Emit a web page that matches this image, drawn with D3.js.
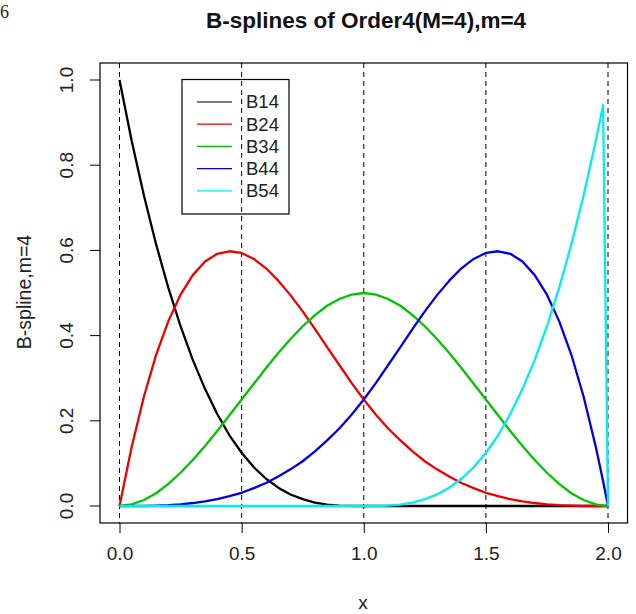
<!DOCTYPE html>
<html><head><meta charset="utf-8">
<script src="https://cdn.jsdelivr.net/npm/d3@7"></script>
<style>body{margin:0;background:#fff}svg{display:block}</style>
</head><body>
<script>
const xValues = [0,0.05,0.1,0.15,0.2,0.25,0.3,0.35,0.4,0.45,0.5,0.55,0.6,0.65,0.7,0.75,0.8,0.85,0.9,0.95,1,1.05,1.1,1.15,1.2,1.25,1.3,1.35,1.4,1.45,1.5,1.55,1.6,1.65,1.7,1.75,1.8,1.85,1.9,1.95,1.98,2];
const b14 = [1,0.857,0.729,0.614,0.512,0.422,0.343,0.275,0.216,0.166,0.125,0.091,0.064,0.043,0.027,0.016,0.008,0.003,0.001,0,0, 0,0,0,0,0,0,0,0,0,0,0,0,0,0,0,0,0,0,0,0,0];
const b24 = [0,0.139,0.257,0.355,0.434,0.496,0.542,0.574,0.592,0.598,0.594,0.580,0.558,0.529,0.495,0.457,0.416,0.373,0.331,0.289,0.25, 0.214,0.182,0.154,0.128,0.105,0.086,0.069,0.054,0.042,0.031,0.023,0.016,0.011,0.007,0.004,0.002,0.001,0,0,0,0];
const b34 = [0,0.004,0.014,0.030,0.052,0.078,0.108,0.141,0.176,0.213,0.25,0.287,0.324,0.359,0.392,0.422,0.448,0.470,0.486,0.496,0.5, 0.496,0.486,0.470,0.448,0.422,0.392,0.359,0.324,0.287,0.25,0.213,0.176,0.141,0.108,0.078,0.052,0.030,0.014,0.004,0.001,0];
const b44 = [0,0,0,0.001,0.002,0.004,0.007,0.011,0.016,0.023,0.031,0.042,0.054,0.069,0.086,0.105,0.128,0.154,0.182,0.214,0.25, 0.289,0.331,0.373,0.416,0.457,0.495,0.529,0.558,0.580,0.594,0.598,0.592,0.574,0.542,0.496,0.434,0.355,0.257,0.139,0.058,0];
const b54 = [0,0,0,0,0,0,0,0,0,0,0,0,0,0,0,0,0,0,0,0,0, 0,0.001,0.003,0.008,0.016,0.027,0.043,0.064,0.091,0.125,0.166,0.216,0.275,0.343,0.422,0.512,0.614,0.729,0.857,0.941,0];
const seriesNames = ["B14","B24","B34","B44","B54"];
const seriesColors = ["#000000","#EE0000","#00C400","#0000DD","#00EEEE"];
const xTicks = [0,0.5,1,1.5,2];
const yTicks = [0,0.2,0.4,0.6,0.8,1.0];
const knotLines = [0,0.5,1,1.5,2];
const titleText = "B-splines of Order4(M=4),m=4";
const xLabel = "x";
const yLabel = "B-spline,m=4";

const W = 636, H = 614;
const box = {left:100, right:627.5, top:63, bottom:523};
const svg = d3.select("body").append("svg").attr("width",W).attr("height",H);
const x = d3.scaleLinear().domain([0,2]).range([119.5,608]);
const y = d3.scaleLinear().domain([0,1]).range([506,80]);
const FONT = "'Liberation Sans', Arial, sans-serif";
const TICK_FS = 19;

// page fragment
svg.append("text").attr("x",0).attr("y",18).attr("font-family","'Liberation Serif', 'Times New Roman', serif")
  .attr("font-size",18).attr("fill","#222").text("6");

// knot lines
svg.append("g").selectAll("line").data(knotLines).join("line")
  .attr("x1",d=>x(d)).attr("x2",d=>x(d)).attr("y1",box.top).attr("y2",box.bottom)
  .attr("stroke","#000").attr("stroke-width",1).attr("stroke-dasharray","5,4");

// curves
const series = [b14,b24,b34,b44,b54];
const line = d3.line().x((d,i)=>x(xValues[i])).y(d=>y(d));
svg.append("g").selectAll("path").data(series).join("path")
  .attr("d",d=>line(d)).attr("fill","none")
  .attr("stroke",(d,i)=>seriesColors[i]).attr("stroke-width",2.3)
  .attr("stroke-linejoin","round");

// box
svg.append("rect").attr("x",box.left).attr("y",box.top)
  .attr("width",box.right-box.left).attr("height",box.bottom-box.top)
  .attr("fill","none").attr("stroke","#000").attr("stroke-width",1.2);

// x axis
const xAxis = d3.axisBottom(x).tickValues(xTicks).tickSize(10).tickPadding(14)
  .tickFormat(d3.format(".1f"));
const gx = svg.append("g").attr("transform",`translate(0,${box.bottom})`).call(xAxis);
gx.select(".domain").remove();
gx.selectAll("text").attr("font-family",FONT).attr("font-size",TICK_FS).attr("fill","#222");

// y axis
const yAxis = d3.axisLeft(y).tickValues(yTicks).tickSize(10).tickPadding(6)
  .tickFormat(d3.format(".1f"));
const gy = svg.append("g").attr("transform",`translate(${box.left},0)`).call(yAxis);
gy.select(".domain").remove();
gy.selectAll(".tick").attr("transform",null);
gy.selectAll(".tick line").attr("y1",d=>y(d)).attr("y2",d=>y(d));
gy.selectAll(".tick text").each(function(d){
  d3.select(this).attr("font-family",FONT).attr("font-size",TICK_FS).attr("fill","#222")
    .attr("text-anchor","middle")
    .attr("transform",`rotate(-90,${-34},${y(d)})`).attr("x",-34).attr("y",y(d)).attr("dy","0.35em");
});

// title
svg.append("text").attr("x",366).attr("y",28).attr("text-anchor","middle")
  .attr("font-family",FONT).attr("font-weight","bold").attr("font-size",22.5).attr("fill","#111")
  .text(titleText);
// axis titles
svg.append("text").attr("x",363).attr("y",609).attr("text-anchor","middle")
  .attr("font-family",FONT).attr("font-size",TICK_FS).attr("fill","#222").text(xLabel);
svg.append("text").attr("transform",`translate(31,292) rotate(-90)`).attr("text-anchor","middle")
  .attr("font-family",FONT).attr("font-size",19.5).attr("fill","#222").text(yLabel);

// legend
const lg = svg.append("g");
lg.append("rect").attr("x",182).attr("y",79.5).attr("width",107).attr("height",134.5)
  .attr("fill","none").attr("stroke","#000").attr("stroke-width",1.2);
const rows = lg.selectAll("g.row").data(seriesNames).join("g").attr("class","row")
  .attr("transform",(d,i)=>`translate(0,${102+i*22.2})`);
rows.append("line").attr("x1",197).attr("x2",232).attr("y1",0).attr("y2",0)
  .attr("stroke",(d,i)=>seriesColors[i]).attr("stroke-width",1.2);
rows.append("text").attr("x",246).attr("y",0).attr("dy","0.35em")
  .attr("font-family",FONT).attr("font-size",18.5).attr("fill","#222").text(d=>d);
</script>
</body></html>
